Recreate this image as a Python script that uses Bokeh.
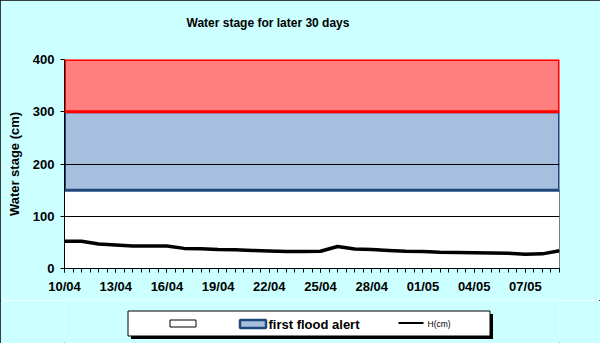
from bokeh.plotting import figure
from bokeh.layouts import column
from bokeh.models import Range1d, FixedTicker
from bokeh.core.properties import value
from bokeh.embed import file_html
from bokeh.resources import INLINE

# ---- data ----
dates = ["10/04", "11/04", "12/04", "13/04", "14/04", "15/04", "16/04", "17/04", "18/04", "19/04",
         "20/04", "21/04", "22/04", "23/04", "24/04", "25/04", "26/04", "27/04", "28/04", "29/04",
         "30/04", "01/05", "02/05", "03/05", "04/05", "05/05", "06/05", "07/05", "08/05", "09/05"]
stage_cm = [52, 52, 47, 45, 43, 43, 43, 38.5, 38, 36.5,
            36, 34.5, 33.5, 32.5, 32.5, 33, 42, 37.5, 36.5, 34.5,
            33, 32.5, 31, 30.5, 30, 29.5, 29, 27.5, 28, 34]
zone_names = ["", "first flood alert", ""]
zone_bottom = [0, 150, 300]
zone_top = [150, 300, 400]
y_ticks = [0, 100, 200, 300, 400]
title_text = "Water stage for later 30 days"
y_label = "Water stage (cm)"
line_name = "H(cm)"

FONT = "Liberation Sans"
BG = "#CCFFFF"
WHITE_LINE = "black"
BLUE_FILL, BLUE_LINE = "#A7BFDE", "#1F497D"
RED_FILL, RED_LINE = "#FF7F7F", "#FF0000"

day_idx = list(range(len(dates)))
x_end = len(dates) - 1

# ---------------- main chart ----------------
p = figure(width=600, height=300, output_backend="svg", toolbar_location=None,
           x_range=Range1d(0, x_end), y_range=Range1d(0, 400),
           min_border_left=64, min_border_right=41, min_border_top=59, min_border_bottom=32)
p.background_fill_color = "white"
p.border_fill_color = BG
p.outline_line_color = None

# a second (empty) line lifts the title well above the plot area
p.title.text = title_text + "\n "
p.title.text_font = FONT
p.title.text_font_style = "bold"
p.title.text_font_size = "12px"
p.title.text_color = "black"
p.title.align = "left"
p.title.offset = 122
p.title.vertical_align = "top"
p.title.standoff = 28

p.quad(left=0, right=x_end, bottom=zone_bottom[0], top=zone_top[0],
       fill_color="white", line_color=WHITE_LINE, line_width=1)
p.quad(left=0, right=x_end, bottom=zone_bottom[1], top=zone_top[1],
       fill_color=BLUE_FILL, line_color=BLUE_LINE, line_width=3)
p.quad(left=0, right=x_end, bottom=zone_bottom[2], top=zone_top[2],
       fill_color=RED_FILL, line_color=RED_LINE, line_width=3)

p.line(day_idx, stage_cm, line_color="black", line_width=3.5, line_join="round")

p.xgrid.visible = False
p.ygrid.ticker = FixedTicker(ticks=[100, 200])
p.ygrid.grid_line_color = "black"
p.ygrid.grid_line_width = 1
p.ygrid.level = "glyph"

p.yaxis.ticker = FixedTicker(ticks=y_ticks)
p.yaxis.axis_label = y_label
p.yaxis.axis_label_text_font = FONT
p.yaxis.axis_label_text_font_style = "bold"
p.yaxis.axis_label_text_font_size = "13px"
p.yaxis.axis_label_text_color = "black"
p.yaxis.axis_label_standoff = 8

p.xaxis.ticker = FixedTicker(ticks=day_idx[::3],
                             minor_ticks=[i * 0.5 for i in range(2 * len(dates) - 1)])
p.xaxis.major_label_overrides = {i: dates[i] for i in day_idx}

for ax in (p.xaxis[0], p.yaxis[0]):
    ax.axis_line_color = "black"
    ax.axis_line_width = 1
    ax.major_tick_in = 0
    ax.major_tick_out = 4
    ax.minor_tick_in = 0
    ax.minor_tick_out = 4
    ax.major_tick_line_color = "black"
    ax.minor_tick_line_color = "black"
    ax.major_label_text_font = FONT
    ax.major_label_text_font_style = "bold"
    ax.major_label_text_font_size = "13px"
    ax.major_label_text_color = "black"
p.yaxis.minor_tick_line_color = None
p.yaxis.major_label_standoff = 6
p.xaxis.major_label_standoff = 6

# ---------------- legend strip (frame aligned with chart frame: page x 64..559) ----------------
q = figure(width=600, height=43, output_backend="svg", toolbar_location=None,
           x_range=Range1d(64, 559), y_range=Range1d(43, 0),
           x_axis_type=None, y_axis_type=None, min_border=0)
q.background_fill_color = BG
q.border_fill_color = BG
q.outline_line_color = None
q.xgrid.visible = False
q.ygrid.visible = False

q.quad(left=130.5, right=492.5, top=13.5, bottom=38.5, fill_color="black", line_color=None)
q.quad(left=127.5, right=489.5, top=10.5, bottom=35.5, fill_color="white", line_color="black", line_width=1)
q.quad(left=169.5, right=195.5, top=19.5, bottom=26.5, fill_color="white", line_color=WHITE_LINE, line_width=1)
q.quad(left=239.5, right=265.5, top=19.5, bottom=27.5, fill_color=BLUE_FILL, line_color=BLUE_LINE, line_width=2.5)
q.text(x=[268], y=[23.5], text=[zone_names[1]], text_font=value(FONT), text_font_style="bold",
       text_font_size="13px", text_baseline="middle", text_align="left", text_color="black")
q.line(x=[398, 423], y=[22.5, 22.5], line_color="black", line_width=2)
q.text(x=[427], y=[23], text=[line_name], text_font=value(FONT),
       text_font_size="8.5px", text_baseline="middle", text_align="left", text_color="black")

layout = column(p, q, spacing=0, styles={"outline": "1px solid black", "outline-offset": "-1px"})

open("out.html", "w").write(file_html(layout, INLINE))
